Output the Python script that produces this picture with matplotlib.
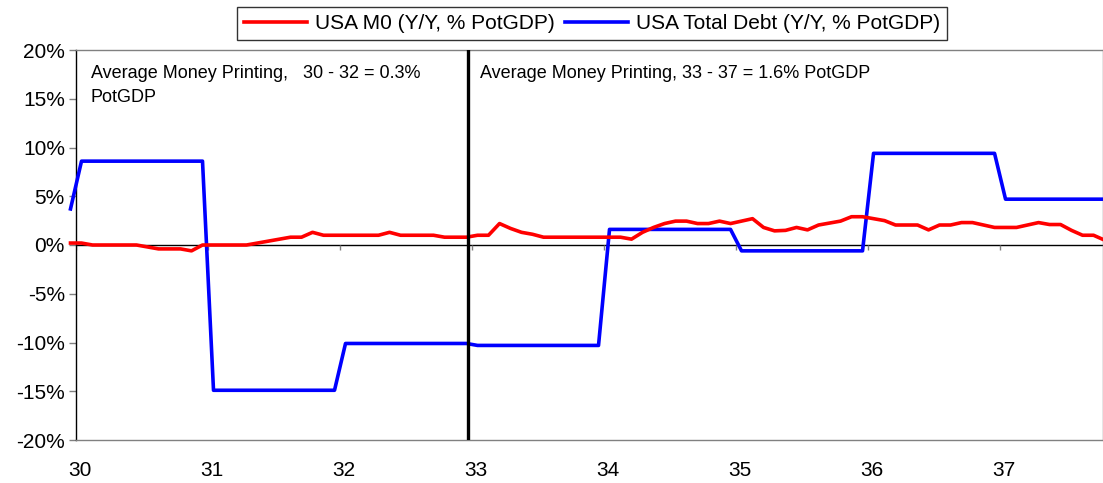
import numpy as np
import matplotlib
matplotlib.use("Agg")
import matplotlib.pyplot as plt
import matplotlib.transforms as mtransforms
from matplotlib.ticker import FuncFormatter

plt.rcParams['font.family'] = ['Liberation Sans', 'DejaVu Sans']

# monthly points, first one half a month before 1930
m0 = [0.2, 0.2, 0.0, 0.0, 0.0, 0.0, 0.0, -0.2, -0.4, -0.4, -0.4, -0.6, 0.0,
      0.0, 0.0, 0.0, 0.0, 0.2, 0.4, 0.6, 0.8, 0.8, 1.3, 1.0, 1.0, 1.0, 1.0,
      1.0, 1.0, 1.3, 1.0, 1.0, 1.0, 1.0, 0.8, 0.8, 0.8, 1.0, 1.0, 2.2, 1.7,
      1.3, 1.1, 0.8, 0.8, 0.8, 0.8, 0.8, 0.8, 0.8, 0.8, 0.6, 1.3, 1.8, 2.2,
      2.45, 2.45, 2.2, 2.2, 2.45, 2.2, 2.45, 2.7, 1.8, 1.45, 1.5, 1.8, 1.55,
      2.05, 2.25, 2.45, 2.9, 2.9, 2.7, 2.5, 2.05, 2.05, 2.05, 1.55, 2.05,
      2.05, 2.3, 2.3, 2.05, 1.8, 1.8, 1.8, 2.05, 2.3, 2.1, 2.1, 1.5, 1.0,
      1.0, 0.5]

debt = [3.7] + [8.6] * 12 + [-14.9] * 12 + [-10.1] * 12 + [-10.3] * 12 \
    + [1.6] * 12 + [-0.6] * 12 + [9.4] * 12 + [4.7] * 10

years = [30, 31, 32, 33, 34, 35, 36, 37]
year_labels = ['30', '31', '32', '33', '34', '35', '36', '37']
x = 30 + (np.arange(len(m0)) - 0.5) / 12

fig = plt.figure(figsize=(11.03, 4.83), dpi=100)
ax = fig.add_axes([76 / 1103, 1 - 440 / 483, 1 - 76 / 1103, 390 / 483])

l1, = ax.plot(x, m0, color='#ff0000', lw=2.6, clip_on=False, zorder=4)
l2, = ax.plot(x, debt, color='#0000ff', lw=2.6, clip_on=False, zorder=3)

ax.set_xlim(30, 30 + 93.36 / 12)
ax.set_ylim(-20, 20)

# zero line with year ticks
ax.axhline(0, color='black', lw=1.0, zorder=2)
ax.vlines(years, -0.5, 0, color='#808080', lw=1.0, zorder=2)
# split line between the two periods
ax.axvline(32.97, color='black', lw=2.4, zorder=5)

ax.set_yticks(np.arange(-20, 21, 5))
ax.yaxis.set_major_formatter(FuncFormatter(lambda v, p: '%d%%' % v))
ax.tick_params(axis='y', length=5, width=1, color='#808080', labelsize=15, pad=3)
ax.set_xticks(years)
ax.set_xticklabels(year_labels)
ax.tick_params(axis='x', length=0, labelsize=15, pad=15)
shift = mtransforms.ScaledTranslation(4 / 100, 0, fig.dpi_scale_trans)
for lab in ax.get_xticklabels():
    lab.set_transform(lab.get_transform() + shift)

for s in ['top', 'right', 'bottom']:
    ax.spines[s].set_color('#808080')
    ax.spines[s].set_linewidth(1.0)
ax.spines['left'].set_color('black')
ax.spines['left'].set_linewidth(1.0)

ax.text(30.11, 17.6, 'Average Money Printing,   30 - 32 = 0.3%',
        fontsize=13, va='center', ha='left')
ax.text(30.11, 15.1, 'PotGDP', fontsize=13, va='center', ha='left')
ax.text(33.06, 17.6, 'Average Money Printing, 33 - 37 = 1.6% PotGDP',
        fontsize=13, va='center', ha='left')

leg = fig.legend([l1, l2], ['USA M0 (Y/Y, % PotGDP)', 'USA Total Debt (Y/Y, % PotGDP)'],
                 loc='center', bbox_to_anchor=(592 / 1103, 1 - 23.5 / 483),
                 ncol=2, fontsize=15, frameon=True, fancybox=False,
                 edgecolor='black', handlelength=3.0, handletextpad=0.4,
                 columnspacing=0.5, borderpad=0.35)
leg.get_frame().set_linewidth(1.0)

fig.savefig('out.png', dpi=100)
